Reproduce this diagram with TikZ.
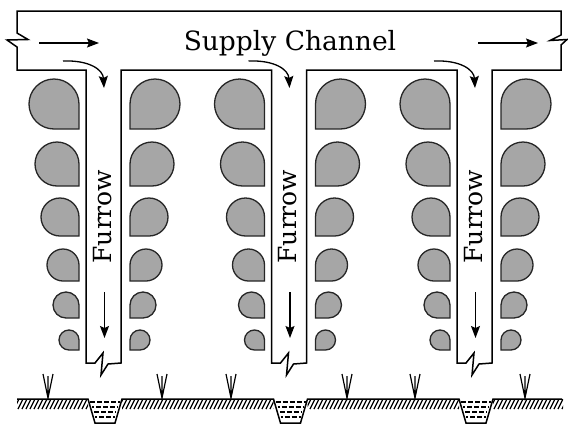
\documentclass[tikz,border=0pt]{standalone}
\usepackage{fontspec}
\setmainfont{DejaVu Serif}
\usetikzlibrary{arrows.meta}
\definecolor{leafgray}{RGB}{166,166,166}
\newcommand\leafL[3]{\filldraw[leaf] (#1,#2) -- ++(0,#3) -- ++(-#3,0) arc[start angle=-90,end angle=-360,radius=#3pt] -- cycle;}
\newcommand\leafR[3]{\filldraw[leaf] (#1,#2) -- ++(0,#3) -- ++(#3,0) arc[start angle=-90,end angle=180,radius=#3pt] -- cycle;}

\begin{document}
\begin{tikzpicture}[x=1pt,y=-1pt,line width=1.5pt,
  leaf/.style={fill=leafgray,draw=black!85,line width=1.3pt},
  flow/.style={line width=1.3pt,-{Stealth[length=12pt,width=9pt,inset=2pt]}},
  lbl/.style={font=\fontsize{25}{30}\selectfont,inner sep=0pt},
  water/.style={line width=1.3pt,dash pattern=on 5pt off 2pt}]
\useasboundingbox (0,0) rectangle (568,426);
% channel and the three furrows
\draw (86,363) -- (86,70) -- (17,70) -- (17,47) -- (7,40) -- (28,39.5) -- (17,33) -- (17,11)
  -- (561,11) -- (561,35) -- (550,40.5) -- (567,39.5) -- (561,45) -- (561,70) -- (492,70)
  -- (492,363) -- (479,364) -- (472,375) -- (474,353) -- (466,363) -- (457,363) -- (457,70)
  -- (306.5,70) -- (306.5,363) -- (293.5,364) -- (286.5,375) -- (288.5,353) -- (280.5,363) -- (271.5,363) -- (271.5,70)
  -- (121,70) -- (121,363) -- (108,364) -- (101,375) -- (103,353) -- (95,363) -- cycle;
\node[lbl,font=\fontsize{26.5}{31}\selectfont,anchor=base] (supply) at (290,50) {Supply Channel};
\draw[flow] (39,43) -- (99,43);
\draw[flow] (478,43) -- (538,43);
\foreach \fx/\n in {86/1,271.5/2,457/3} {
  \foreach \cy/\rad in {104/25,164/22,217/19,265/16,305/13,340/10} {
    \leafL{\fx-7}{\cy}{\rad}
    \leafR{\fx+44}{\cy}{\rad}
  }
  \draw[flow] (\fx-23,61) .. controls (\fx+4,60) and (\fx+17,70) .. (\fx+18,88);
  \draw[flow] (\fx+18.5,292) -- (\fx+18.5,338);
  \node[lbl,rotate=90,anchor=base] (furrow\n) at (\fx+25,216.5) {Furrow};
  % water in the trench
  \draw[water] (\fx+4,402) -- (\fx+34,402);
  \draw[water,dash phase=3pt] (\fx+6,407) -- (\fx+32,407);
  \draw[water] (\fx+8,412) -- (\fx+30,412);
  \draw[water,dash phase=3pt] (\fx+9,417) -- (\fx+29,417);
}
% ground with trenches
\draw (17,399) -- (88,399) -- (95,423) -- (115,423) -- (122,399) -- (273.5,399) -- (280.5,423) -- (300.5,423)
  -- (307.5,399) -- (459,399) -- (466,423) -- (486,423) -- (493,399) -- (562,399);
\begin{scope}
\clip (17,399) rectangle (88,410) (122,399) rectangle (273.5,410) (307.5,399) rectangle (459,410) (493,399) rectangle (563,410);
\foreach \x in {14,18,...,566} \draw[line width=1.2pt] (\x,409) -- (\x+5,399);
\end{scope}
\foreach \tx in {48,162,231,347,415,525}
  \draw[line width=1.2pt] (\tx-5,374) -- (\tx,398) -- (\tx+5,374) (\tx,376) -- (\tx,398);
\end{tikzpicture}
\end{document}
